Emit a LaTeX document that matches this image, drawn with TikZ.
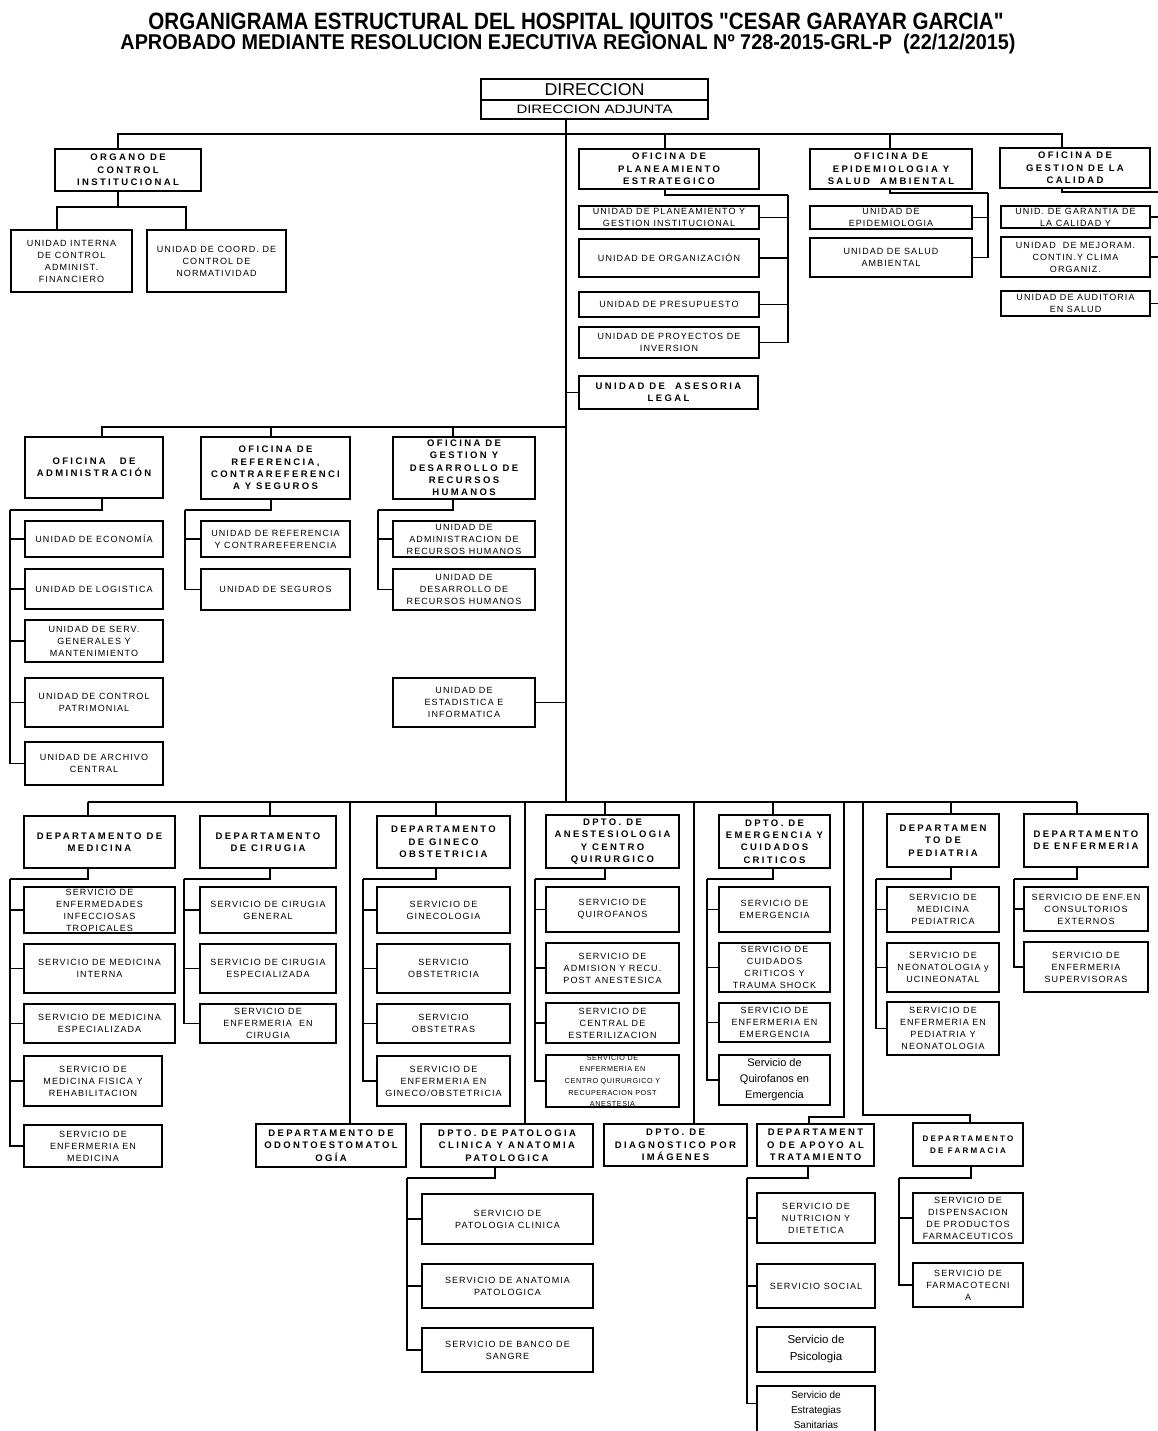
\documentclass[tikz,border=0pt]{standalone}
\usepackage{graphicx}
\usepackage{fontspec}
\setmainfont{Liberation Sans}
\newfontfamily\tfont[Ligatures=TeXOff]{Liberation Sans}
\newfontfamily\hfont[LetterSpace=25]{Liberation Sans}
\newfontfamily\ufont[LetterSpace=12]{Liberation Sans}
\newfontfamily\pfont[LetterSpace=28]{Liberation Sans}
\newfontfamily\sfont[LetterSpace=8]{Liberation Sans}
\newcommand\mybox[7][ubox]{\node[#1, minimum width={(#5-#3)*1pt}, minimum height={(#6-#4)*1pt}] (#2) at ({(#3+#5)/2},{(#4+#6)/2}) {#7};}
\newcommand\kidsL[5]{\coordinate (#1-a) at (#2,#4); \coordinate (#1-b) at (#3,#4);
  \draw[ln] (#1.south -| #1-a) -- (#1-a) -- (#1-b);
  \foreach \k in {#5} {\draw[ln] (#1-b) |- (\k.west);}}
\newcommand\kidsR[5]{\coordinate (#1-a) at (#2,#4); \coordinate (#1-b) at (#3,#4);
  \draw[ln] (#1.south -| #1-a) -- (#1-a) -- (#1-b);
  \foreach \k in {#5} {\draw[ln] (#1-b) |- (\k.east);}}
\begin{document}
\begin{tikzpicture}[x=1pt,y=-1pt,
  ubox/.style={draw, line width=1.6pt, rectangle, inner sep=0pt, outer sep=0pt, align=center,
    font=\ufont\fontsize{9}{12}\selectfont},
  hbox/.style={ubox, line width=2.4pt, font=\hfont\bfseries\fontsize{9.5}{12.3}\selectfont},
  small/.style={font=\sfont\fontsize{7.2}{11.6}\selectfont},
  big/.style={font=\normalfont\fontsize{11}{16}\selectfont},
  ln/.style={line width=1.5pt}]
\useasboundingbox (0,0) rectangle (1157,1431);
\fill[white] (0,0) rectangle (1157,1431);

% ---- titles
\node[anchor=base, inner sep=0pt] (t1) at (576,30) {\resizebox{855pt}{16.5pt}{\tfont\bfseries ORGANIGRAMA ESTRUCTURAL DEL HOSPITAL IQUITOS "CESAR GARAYAR GARCIA"}};
\node[anchor=base, inner sep=0pt] (t2) at (568,50) {\resizebox{895pt}{15.5pt}{\tfont\bfseries APROBADO MEDIANTE RESOLUCION EJECUTIVA REGIONAL Nº 728-2015-GRL-P\ \ (22/12/2015)}};

% ---- direccion
\mybox[hbox]{dira}{481}{79}{708}{100}{\resizebox{100pt}{12pt}{\normalfont DIRECCION}}
\mybox[hbox]{dirb}{481}{100}{708}{119}{\resizebox{156pt}{8.5pt}{\normalfont DIRECCION ADJUNTA}}

% ---- top row
\mybox[hbox]{org}{55}{149}{201}{191}{ORGANO DE\\CONTROL\\INSTITUCIONAL}
\mybox{uic}{11}{230}{132}{292}{UNIDAD INTERNA\\DE CONTROL\\ADMINIST.\\FINANCIERO}
\mybox{ucn}{147}{230}{286}{292}{UNIDAD DE COORD. DE\\CONTROL DE\\NORMATIVIDAD}

\mybox[hbox]{plan}{579}{149}{759}{189}{OFICINA DE\\PLANEAMIENTO\\ESTRATEGICO}
\mybox{pu1}{579}{206}{759}{229}{UNIDAD DE PLANEAMIENTO Y\\GESTION INSTITUCIONAL}
\mybox{pu2}{579}{239}{759}{277}{UNIDAD DE ORGANIZACIÓN}
\mybox{pu3}{579}{292}{759}{317}{UNIDAD DE PRESUPUESTO}
\mybox{pu4}{579}{327}{759}{358}{UNIDAD DE PROYECTOS DE\\INVERSION}
\mybox[hbox]{legal}{579}{376}{758}{409}{UNIDAD DE\ \ ASESORIA\\LEGAL}

\mybox[hbox]{epi}{810}{149}{972}{189}{OFICINA DE\\EPIDEMIOLOGIA Y\\SALUD\ \ AMBIENTAL}
\mybox{eu1}{810}{206}{972}{229}{UNIDAD DE\\EPIDEMIOLOGIA}
\mybox{eu2}{810}{238}{972}{277}{UNIDAD DE SALUD\\AMBIENTAL}

\mybox[hbox]{cal}{1000}{148}{1150}{188}{OFICINA DE\\GESTION DE LA\\CALIDAD}
\mybox{cu1}{1001}{206}{1150}{228}{UNID. DE GARANTIA DE\\LA CALIDAD Y}
\mybox{cu2}{1001}{237}{1150}{277}{UNIDAD\ \ DE MEJORAM.\\CONTIN.Y CLIMA\\ORGANIZ.}
\mybox{cu3}{1001}{291}{1150}{316}{UNIDAD DE AUDITORIA\\EN SALUD}

% ---- middle row
\mybox[hbox]{adm}{25}{437}{163}{498}{OFICINA\hspace{14pt}DE\\ADMINISTRACIÓN}
\mybox{au1}{25}{521}{163}{557}{UNIDAD DE ECONOMÍA}
\mybox{au2}{25}{569}{163}{609}{UNIDAD DE LOGISTICA}
\mybox{au3}{25}{620}{163}{662}{UNIDAD DE SERV.\\GENERALES Y\\MANTENIMIENTO}
\mybox{au4}{25}{678}{163}{727}{UNIDAD DE CONTROL\\PATRIMONIAL}
\mybox{au5}{25}{742}{163}{785}{UNIDAD DE ARCHIVO\\CENTRAL}

\mybox[hbox]{ref}{201}{437}{350}{499}{OFICINA DE\\REFERENCIA,\\CONTRAREFERENCI\\A Y SEGUROS}
\mybox{ru1}{201}{521}{350}{557}{UNIDAD DE REFERENCIA\\Y CONTRAREFERENCIA}
\mybox{ru2}{201}{569}{350}{610}{UNIDAD DE SEGUROS}

\mybox[hbox]{rh}{393}{437}{535}{499}{OFICINA DE\\GESTION Y\\DESARROLLO DE\\RECURSOS\\HUMANOS}
\mybox{hu1}{393}{521}{535}{557}{UNIDAD DE\\ADMINISTRACION DE\\RECURSOS HUMANOS}
\mybox{hu2}{393}{569}{535}{610}{UNIDAD DE\\DESARROLLO DE\\RECURSOS HUMANOS}
\mybox{est}{393}{678}{535}{727}{UNIDAD DE\\ESTADISTICA E\\INFORMATICA}

% ---- departments
\mybox[hbox]{dmed}{24}{816}{175}{868}{DEPARTAMENTO DE\\MEDICINA}
\mybox[hbox]{dcir}{200}{816}{336}{868}{DEPARTAMENTO\\DE CIRUGIA}
\mybox[hbox]{dgin}{377}{816}{510}{868}{DEPARTAMENTO\\DE GINECO\\OBSTETRICIA}
\mybox[hbox]{dane}{546}{815}{679}{868}{DPTO. DE\\ANESTESIOLOGIA\\Y CENTRO\\QUIRURGICO}
\mybox[hbox]{deme}{719}{815}{830}{868}{DPTO. DE\\EMERGENCIA Y\\CUIDADOS\\CRITICOS}
\mybox[hbox]{dped}{887}{814}{999}{867}{DEPARTAMEN\\TO DE\\PEDIATRIA}
\mybox[hbox]{denf}{1024}{814}{1148}{867}{DEPARTAMENTO\\DE ENFERMERIA}

\mybox{me1}{24}{887}{175}{933}{SERVICIO DE\\ENFERMEDADES\\INFECCIOSAS\\TROPICALES}
\mybox{me2}{24}{944}{175}{993}{SERVICIO DE MEDICINA\\INTERNA}
\mybox{me3}{24}{1004}{175}{1043}{SERVICIO DE MEDICINA\\ESPECIALIZADA}
\mybox{me4}{24}{1056}{162}{1106}{SERVICIO DE\\MEDICINA FISICA Y\\REHABILITACION}
\mybox{me5}{24}{1125}{162}{1167}{SERVICIO DE\\ENFERMERIA EN\\MEDICINA}

\mybox{ci1}{200}{887}{336}{933}{SERVICIO DE CIRUGIA\\GENERAL}
\mybox{ci2}{200}{944}{336}{993}{SERVICIO DE CIRUGIA\\ESPECIALIZADA}
\mybox{ci3}{200}{1004}{336}{1043}{SERVICIO DE\\ENFERMERIA\ \ EN\\CIRUGIA}

\mybox{gi1}{377}{887}{510}{933}{SERVICIO DE\\GINECOLOGIA}
\mybox{gi2}{377}{944}{510}{993}{SERVICIO\\OBSTETRICIA}
\mybox{gi3}{377}{1004}{510}{1043}{SERVICIO\\OBSTETRAS}
\mybox{gi4}{377}{1056}{510}{1106}{SERVICIO DE\\ENFERMERIA EN\\GINECO/OBSTETRICIA}

\mybox{an1}{546}{887}{679}{932}{SERVICIO DE\\QUIROFANOS}
\mybox{an2}{546}{943}{679}{993}{SERVICIO DE\\ADMISION Y RECU.\\POST ANESTESICA}
\mybox{an3}{546}{1003}{679}{1043}{SERVICIO DE\\CENTRAL DE\\ESTERILIZACION}
\mybox[ubox,small]{an4}{546}{1056}{679}{1106}{SERVICIO DE\\ENFERMERIA EN\\CENTRO QUIRURGICO Y\\RECUPERACION POST\\ANESTESIA}

\mybox{em1}{719}{887}{830}{932}{SERVICIO DE\\EMERGENCIA}
\mybox{em2}{719}{943}{830}{992}{SERVICIO DE\\CUIDADOS\\CRITICOS Y\\TRAUMA SHOCK}
\mybox{em3}{719}{1003}{830}{1042}{SERVICIO DE\\ENFERMERIA EN\\EMERGENCIA}
\mybox[ubox,big]{em4}{719}{1055}{830}{1105}{Servicio de\\Quirofanos en\\Emergencia}

\mybox{pe1}{887}{887}{999}{932}{SERVICIO DE\\MEDICINA\\PEDIATRICA}
\mybox{pe2}{887}{943}{999}{992}{SERVICIO DE\\NEONATOLOGIA y\\UCINEONATAL}
\mybox{pe3}{887}{1002}{999}{1055}{SERVICIO DE\\ENFERMERIA EN\\PEDIATRIA Y\\NEONATOLOGIA}

\mybox{en1}{1024}{887}{1148}{931}{SERVICIO DE ENF.EN\\CONSULTORIOS\\EXTERNOS}
\mybox{en2}{1024}{942}{1148}{992}{SERVICIO DE\\ENFERMERIA\\SUPERVISORAS}

% ---- bottom row
\mybox[hbox]{dodo}{256}{1124}{406}{1167}{DEPARTAMENTO DE\\ODONTOESTOMATOL\\OGÍA}
\mybox[hbox]{dpat}{421}{1124}{593}{1167}{DPTO. DE PATOLOGIA\\CLINICA Y ANATOMIA\\PATOLOGICA}
\mybox[hbox]{ddia}{604}{1124}{747}{1166}{DPTO. DE\\DIAGNOSTICO POR\\IMÁGENES}
\mybox[hbox]{dapo}{757}{1124}{874}{1166}{DEPARTAMENT\\O DE APOYO AL\\TRATAMIENTO}
\mybox[hbox,font=\pfont\bfseries\fontsize{8}{11.5}\selectfont]{dfar}{913}{1123}{1023}{1166}{DEPARTAMENTO\\DE FARMACIA}

\mybox{pa1}{422}{1194}{593}{1244}{SERVICIO DE\\PATOLOGIA CLINICA}
\mybox{pa2}{422}{1264}{593}{1308}{SERVICIO DE ANATOMIA\\PATOLOGICA}
\mybox{pa3}{422}{1328}{593}{1372}{SERVICIO DE BANCO DE\\SANGRE}

\mybox{ap1}{757}{1193}{875}{1243}{SERVICIO DE\\NUTRICION Y\\DIETETICA}
\mybox{ap2}{757}{1264}{875}{1308}{SERVICIO SOCIAL}
\mybox[ubox,font=\normalfont\fontsize{11.5}{17}\selectfont]{ap3}{757}{1327}{875}{1372}{Servicio de\\Psicologia}
\mybox[ubox,font=\normalfont\fontsize{10}{15}\selectfont]{ap4}{757}{1386}{875}{1433}{Servicio de\\Estrategias\\Sanitarias}

\mybox{fa1}{913}{1193}{1023}{1243}{SERVICIO DE\\DISPENSACION\\DE PRODUCTOS\\FARMACEUTICOS}
\mybox{fa2}{913}{1263}{1023}{1307}{SERVICIO DE\\FARMACOTECNI\\A}

% ---- connectors: top
\coordinate (trk) at (566,802);
\draw[ln] (dirb.south -| trk) -- (trk);
\coordinate (t-org) at (118,134); \coordinate (t-plan) at (665,134);
\coordinate (t-epi) at (890,134); \coordinate (t-cal) at (1062,134);
\draw[ln] (t-org |- org.north) -- (t-org) -- (t-cal) -- (t-cal |- cal.north);
\draw[ln] (t-plan) -- (t-plan |- plan.north);
\draw[ln] (t-epi) -- (t-epi |- epi.north);

\coordinate (o-a) at (118,207); \coordinate (o-l) at (57,207); \coordinate (o-r) at (186,207);
\draw[ln] (org.south -| o-a) -- (o-a);
\draw[ln] (o-l |- uic.north) -- (o-l) -- (o-r) -- (o-r |- ucn.north);

\kidsR{plan}{665}{788}{195}{pu1,pu2,pu3,pu4}
\kidsR{epi}{890}{988}{193}{eu1,eu2}
\kidsR{cal}{1062}{1162}{192}{cu1,cu2,cu3}
\draw[ln] (trk |- legal.west) -- (legal.west);

% ---- connectors: middle
\coordinate (m-adm) at (102,427); \coordinate (m-ref) at (271,427); \coordinate (m-rh) at (453,427);
\draw[ln] (m-adm |- adm.north) -- (m-adm) -- (trk |- m-adm);
\draw[ln] (m-ref) -- (m-ref |- ref.north);
\draw[ln] (m-rh) -- (m-rh |- rh.north);
\kidsL{adm}{102}{10}{510}{au1,au2,au3,au4,au5}
\kidsL{ref}{271}{185}{510}{ru1,ru2}
\kidsL{rh}{453}{378}{510}{hu1,hu2}
\draw[ln] (est.east) -- (trk |- est.east);

% ---- connectors: bottom bus
\foreach \x/\n in {88/dmed,270/dcir,350/dodo,436/dgin,525/dpat,605/dane,694/ddia,773/deme,951/dped,1077/denf}
  {\coordinate (b-\n) at (\x,802); \draw[ln] (b-\n) -- (b-\n |- \n.north);}
\draw[ln] (b-dmed) -- (b-denf);
\coordinate (b-apo) at (844,802); \coordinate (k-apo) at (809,1117);
\draw[ln] (b-apo) |- (k-apo) -- (k-apo |- dapo.north);
\coordinate (b-far) at (863,802); \coordinate (k-far) at (970,1115);
\draw[ln] (b-far) |- (k-far) -- (k-far |- dfar.north);

\kidsL{dmed}{88}{10}{879}{me1,me2,me3,me4,me5}
\kidsL{dcir}{270}{184}{879}{ci1,ci2,ci3}
\kidsL{dgin}{436}{363}{879}{gi1,gi2,gi3,gi4}
\kidsL{dane}{605}{535}{879}{an1,an2,an3,an4}
\kidsL{deme}{773}{707}{879}{em1,em2,em3,em4}
\kidsL{dped}{951}{876}{879}{pe1,pe2,pe3}
\kidsL{denf}{1077}{1014}{879}{en1,en2}
\kidsL{dpat}{495}{407}{1178}{pa1,pa2,pa3}
\kidsL{dapo}{808}{747}{1178}{ap1,ap2}
\draw[ln] (dapo-b) |- ([yshift=6pt]ap4.west);
\kidsL{dfar}{971}{899}{1178}{fa1,fa2}
\end{tikzpicture}
\end{document}
